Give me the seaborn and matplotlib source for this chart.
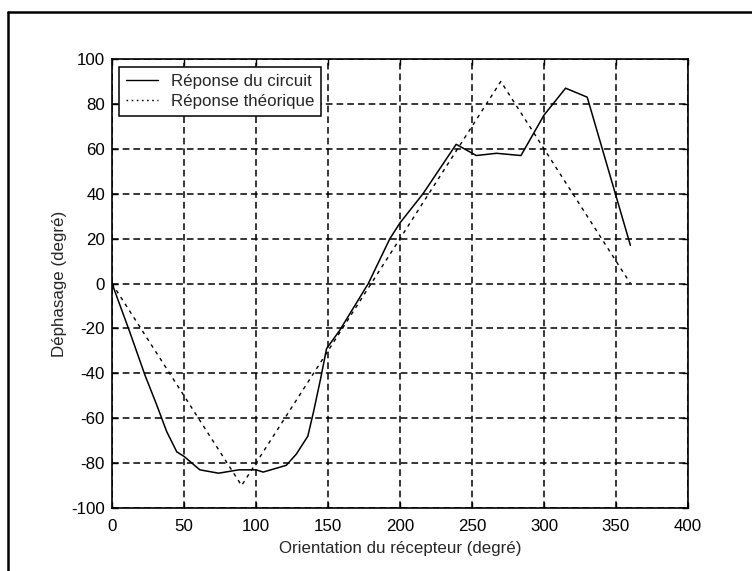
import matplotlib
matplotlib.use("Agg")
import matplotlib.pyplot as plt
import seaborn as sns
import pandas as pd
from matplotlib.lines import Line2D

# Data
circuit_x = [0, 12, 23, 31, 38, 45, 50, 61, 74, 88, 100, 105, 121, 128, 136, 140,
             145, 149, 158, 178, 193, 200, 216, 239, 253, 267, 284, 300, 315, 330, 360]
circuit_y = [0, -21, -41, -54, -66, -75, -77, -83, -84.5, -83, -83, -84, -81, -76, -68, -57,
             -42, -29, -21, 0, 20, 27, 40, 62, 57, 58, 57, 75, 87, 83, 17]
theory_x = [0, 90, 270, 360]
theory_y = [0, -90, 90, 0]
labels = ["Réponse du circuit", "Réponse théorique"]
x_ticks = [0, 50, 100, 150, 200, 250, 300, 350, 400]
y_ticks = [-100, -80, -60, -40, -20, 0, 20, 40, 60, 80, 100]

sns.set_style("white")
plt.rcParams['font.family'] = ['Liberation Sans', 'DejaVu Sans']
plt.rcParams['lines.scale_dashes'] = False
FS = 12.2

fig = plt.figure(figsize=(7.52, 5.71), dpi=100)
ax = fig.add_axes([112/752, 1-508/571, 576/752, 449/571])

df_c = pd.DataFrame({"x": circuit_x, "y": circuit_y})
df_t = pd.DataFrame({"x": theory_x, "y": theory_y})
sns.lineplot(data=df_c, x="x", y="y", ax=ax, color="black", linewidth=1.1,
             sort=False, estimator=None, zorder=3)
sns.lineplot(data=df_t, x="x", y="y", ax=ax, color="black", linewidth=1.0,
             sort=False, estimator=None, zorder=3, linestyle=(0, (2.6, 3.2)))

ax.set_xlim(0, 400)
ax.set_ylim(-100, 100)
ax.set_xticks(x_ticks)
ax.set_yticks(y_ticks)
ax.set_xticklabels([str(v) for v in x_ticks], fontsize=FS)
ax.set_yticklabels([str(v) for v in y_ticks], fontsize=FS)
ax.tick_params(direction="in", length=4, width=1, top=True, right=True,
               bottom=True, left=True, colors="black")
ax.tick_params(axis="x", pad=8)
ax.tick_params(axis="y", pad=5)
ax.grid(True, color="black", linestyle=(0, (4.8, 2.9)), linewidth=1.1, zorder=1)
for s in ax.spines.values():
    s.set_color("black")
    s.set_linewidth(1.2)
    s.set_visible(True)

ax.set_xlabel("Orientation du récepteur (degré)", fontsize=FS, labelpad=5)
ax.set_ylabel("Déphasage (degré)", fontsize=FS, labelpad=3)

handles = [Line2D([], [], color="black", linewidth=1.0),
           Line2D([], [], color="black", linewidth=1.0, linestyle=(0, (1.2, 2.5)))]
leg = ax.legend(handles, labels, loc="upper left", bbox_to_anchor=(0.012, 0.982),
                fontsize=FS, frameon=True, fancybox=False, handlelength=1.9,
                handletextpad=0.75, labelspacing=0.3, borderpad=0.4,
                borderaxespad=0.0)
leg.get_frame().set_edgecolor("black")
leg.get_frame().set_linewidth(1.1)
leg.get_frame().set_alpha(1)
leg.set_zorder(5)

# Outer frame (left and top visible, rest cropped)
fx0, fy1 = 8/752, 1-12/571
fig.add_artist(Line2D([fx0, fx0], [-0.1, fy1], transform=fig.transFigure,
                      color="black", linewidth=1.8))
fig.add_artist(Line2D([fx0, 1.1], [fy1, fy1], transform=fig.transFigure,
                      color="black", linewidth=1.8))

fig.savefig("out.png", dpi=100)
